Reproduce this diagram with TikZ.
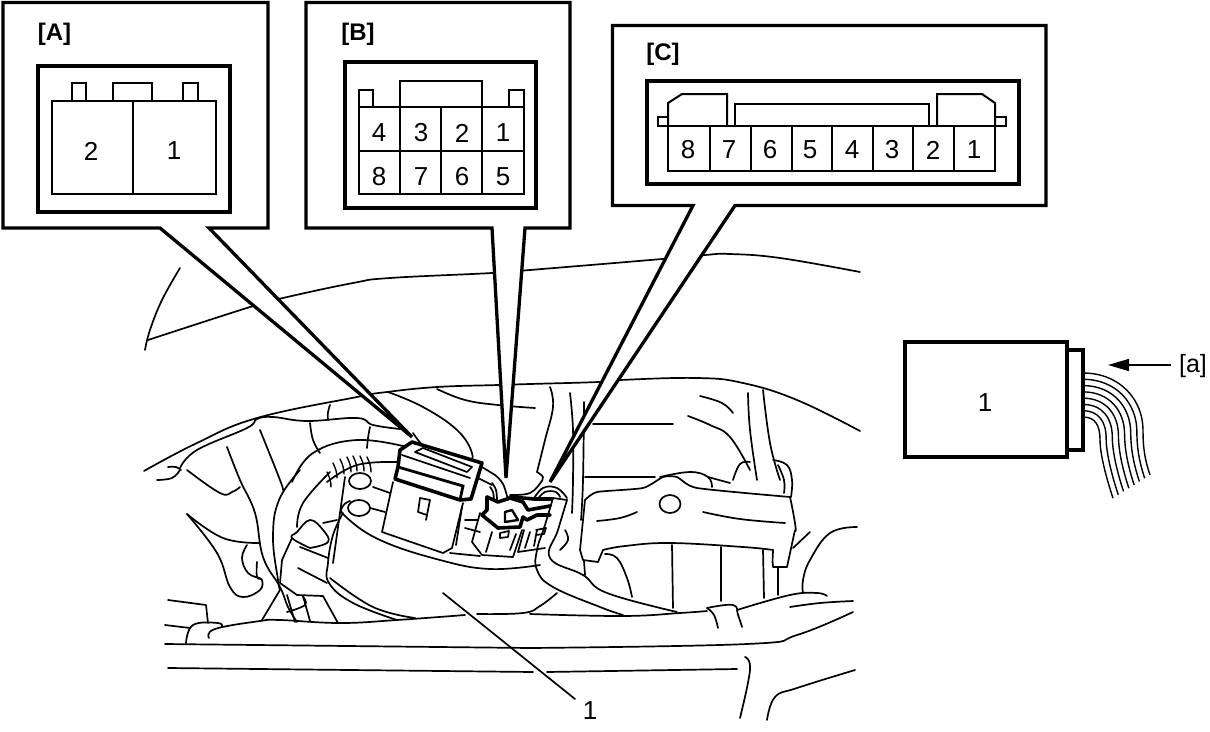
\documentclass[tikz,border=0pt]{standalone}
\usepackage{fontspec}
\setmainfont{Liberation Sans}
\usetikzlibrary{arrows.meta}
\tikzset{
  ln/.style={line width=1.7pt,line cap=round,line join=round},
  thin part/.style={line width=2pt,line join=miter},
  panel/.style={line width=3.3pt,draw=black,fill=white,line join=miter},
  frame/.style={line width=4.2pt,line join=miter},
  heavy/.style={line width=3.6pt,line join=round,line cap=round},
  num/.style={font=\fontsize{26}{26}\selectfont,inner sep=0pt,text=black},
  tag/.style={font=\bfseries\fontsize{24}{24}\selectfont,inner sep=0pt,text=black},
  plain tag/.style={font=\fontsize{25}{25}\selectfont,inner sep=0pt,text=black},
}
\newcommand{\cv}[1]{\draw[ln] plot[smooth,tension=0.7] coordinates {#1};}
\begin{document}
\begin{tikzpicture}[x=1pt,y=-1pt]
\useasboundingbox[fill=white] (0,0) rectangle (1210,731);
% --- scene: body lines
\cv{(180,268)(162,300)(150,330)(145,350)}
\cv{(148,340)(250,307)(283,298)(353,283)(390,278)(492,273)(530,270)(662,259)(705,255)(730,254)(780,258)(860,272)}
\cv{(144,471)(197,443)(257,418)(357,397)(387,392)(437,387)(498,385)(530,384)(598,382)(620,380)(697,378)(743,383)(797,400)(860,431)}
\cv{(437,389)(465,400)(498,405)(535,408)}
% hand
\cv{(180,468)(197,450)(247,428)(257,419)(273,417)(307,421)(357,418)(373,425)(400,429)}
\cv{(157,480)(172,478)(180,470)}
\cv{(168,467)(176,467)(181,470)}
\cv{(187,470)(220,493)(232,492)(240,487)}
\cv{(388,392)(423,407)(457,430)(472,453)(467,462)(447,463)(427,450)(413,433)}
\cv{(227,447)(240,480)(255,513)(263,557)(280,587)(288,607)(297,622)}
\cv{(260,430)(280,480)(283,490)}
\cv{(310,423)(313,440)(320,453)}
\cv{(330,405)(328,412)(328,420)}
\cv{(370,427)(368,438)(367,448)}
\cv{(292,482)(313,453)(357,440)(407,447)}
\cv{(327,482)(357,465)(397,462)}
\foreach \a/\b in {327/345,333/336,340/332,347/330,353/329,360/329,367/330}{
  \draw[ln,line width=1.4pt] (\a,\b+127) .. controls (\a+3,\b+133) and (\a+4,\b+137) .. (\a+4,\b+142);}
% lower left
\cv{(300,470)(279,500)(273,537)(278,580)(280,590)}
\draw[ln] (280,590) -- (262,620);
\cv{(187,514)(223,538)(260,543)}
\cv{(187,514)(217,553)(230,587)(243,597)(260,590)(262,580)(257,577)(257,562)}
\cv{(247,545)(242,558)(248,573)(260,578)}
% front frame
\draw[ln] (165,644) -- (530,648);
\draw[ln] (168,668) -- (533,672);
\draw[ln] (165,625) -- (190,628);
\draw[ln] (168,600) -- (206,605) -- (208,623);
\cv{(186,643)(193,625)(218,623)(222,627)}
\cv{(209,638)(215,629)(260,621)(280,620)(340,623)(397,620)(465,615)}
\cv{(477,614)(523,613)(540,606)(557,593)}
% pump
\cv{(297,527)(303,503)(330,472)}
\cv{(323,523)(337,520)}
\draw[ln] (360,481) ellipse[x radius=11,y radius=8];
\draw[ln] (359,508) ellipse[x radius=11,y radius=8];
\draw[ln] (345,477) -- (333,563);
\cv{(350,501)(343,506)(345,516)(380,540)(440,560)(490,569)(540,565)}
\cv{(343,513)(333,535)(328,563)(329,583)(353,603)(397,620)}
\cv{(330,578)(373,607)(415,618)}
\draw[ln] (373,487) -- (390,493);
\draw[ln] (370,508) -- (385,512);
\cv{(310,548)(328,542)(323,530)(310,520)(297,532)(292,538)(310,548)}
\draw[ln] (292,538) -- (282,560) -- (280,583) -- (297,595) -- (323,596) -- (338,623);
\draw[ln] (303,596) -- (310,621);
\draw[ln] (287,595) -- (295,622);
\cv{(303,597)(305,605)(287,612)}
\draw[ln] (300,547) -- (328,558);
\draw[ln] (298,568) -- (327,583);
% connector A
\draw[ln] (393,482) -- (382,532) -- (443,553) -- (452,548) -- (463,503);
\draw[ln] (456,545) -- (462,507);
\draw[ln] (420,498) -- (418,512) -- (427,515) -- (430,500) -- cycle;
\draw[ln] (427,515) -- (426,520);
\draw[heavy,fill=white] (400,450) -- (412,442) -- (482,463) -- (471,499) -- (460,500) -- (395,479) -- (398,467) -- cycle;
\draw[ln] (402,455) -- (470,478);
\draw[line width=2.8pt] (398,467) -- (463,486) -- (460,500);
\draw[ln] (415,452) -- (423,448) -- (472,467) -- (467,472) -- cycle;
\draw[ln] (482,467) -- (495,475);
\draw[ln] (478,478) -- (492,485);
\draw[ln] (465,520) -- (478,520);
\draw[ln] (465,528) -- (480,532);
\draw[ln] (450,553) -- (480,556);
% connector B
\cv{(495,475)(503,484)(508,500)}
\cv{(492,483)(496,490)(497,500)}
\cv{(490,487)(493,492)(494,500)}
\draw[heavy] (487,497) -- (487,510) -- (482,515) -- (498,528) -- (520,527) -- (523,517) -- (527,520) -- (537,515) -- (550,515);
\draw[heavy] (487,497) -- (498,502) -- (510,498) -- (523,502) -- (528,510) -- (550,506);
\draw[ln] (480,513) -- (472,542) -- (482,555) -- (513,557) -- (522,530);
\draw[ln] (492,532) -- (486,552);
\draw[ln] (516,534) -- (510,550);
\draw[ln] (500,533) -- (509,531) -- (508,537) -- (500,538) -- cycle;
\draw[line width=2.4pt,line join=round] (505,512) -- (505,522) -- (518,520) -- (512,510) -- cycle;
% connector C
\draw[heavy] (510,497) -- (535,499) -- (552,499);
\cv{(533,500)(543,488)(557,488)(567,498)}
\cv{(537,500)(545,492)(556,492)(560,497)}
\draw[ln] (524,530) -- (518,552) -- (545,548);
\draw[ln] (530,532) -- (525,548);
\draw[ln] (537,530) -- (534,546);
\draw[ln] (536,530) -- (546,528) -- (544,534) -- (536,535);
\cv{(510,495)(530,493)(541,482)}
% right part: hose
\cv{(553,498)(545,525)(537,550)(537,570)(553,587)(600,607)(623,615)}
\cv{(567,500)(558,530)(550,558)(583,575)(607,593)(677,612)}
\draw[ln] (553,498) -- (567,500);
\cv{(565,530)(568,540)(560,550)}
\cv{(530,614)(623,616)(680,613)(707,611)}
% uprights
\cv{(550,387)(553,407)(545,440)(537,472)}
\cv{(537,472)(543,477)(541,482)}
\cv{(570,393)(573,430)(573,480)(572,513)}
\cv{(584,402)(583,480)(581,520)}
\draw[ln] (593,424) -- (673,424);
\draw[ln] (585,477) -- (655,477);
\cv{(700,396)(722,403)(733,413)}
\cv{(688,416)(710,425)(730,437)(750,470)}
\cv{(748,393)(750,430)(757,480)}
\cv{(763,390)(770,443)(780,480)}
\cv{(733,480)(740,464)(750,462)}
\cv{(773,460)(787,465)(792,480)(791,497)}
\cv{(778,465)(784,480)(784,493)}
\cv{(660,477)(690,472)(708,477)(712,487)}
\cv{(708,477)(730,483)}
% bracket
\draw[ln,fill=white] plot[smooth,tension=0.35] coordinates {(585,500)(597,492)(643,488)(663,477)(677,477)(697,488)(790,497)};
\draw[ln] (790,497) .. controls (795,520) and (797,535) .. (795,530) -- (787,567) -- (773,567) .. controls (772,560) and (773,555) .. (773,550);
\cv{(773,550)(743,547)(670,543)(625,546)(603,550)}
\draw[ln] (603,550) -- (598,562) -- (583,560) -- (580,550) -- (585,500);
\draw[ln] (670,504) ellipse[x radius=10.5,y radius=9];
\cv{(597,521)(620,518)(637,512)}
\cv{(703,512)(740,519)(785,523)}
\draw[ln] (672,545) -- (673,608);
\draw[ln] (721,547) -- (721,601);
\draw[ln] (763,550) -- (764,598);
\draw[ln] (778,567) -- (778,595);
\draw[ln] (584,561) -- (585,575);
\cv{(605,554)(617,558)(627,578)(632,597)}
% clamp and frame right
\cv{(707,608)(733,605)(738,615)(742,627)}
\cv{(707,608)(714,615)(718,628)}
\cv{(737,610)(790,595)(817,593)(827,596)}
\cv{(790,607)(820,603)(853,601)}
\cv{(530,648)(747,644)(797,635)(853,612)}
\draw[ln] (547,672) -- (737,669);
\cv{(745,657)(750,670)(740,718)}
\cv{(855,670)(797,688)(775,697)(767,720)}
\cv{(857,527)(830,533)(810,560)(803,580)(803,593)}
\draw[ln] (810,532) -- (793,548);
% leader
\coordinate (leadstart) at (443,593);
\coordinate (leadend) at (575,699);
\draw[ln] (leadstart) -- (leadend);
\node[num] (lab1) at (590,711) {1};
% --- callouts
\draw[panel] (3,2.5) -- (268,2.5) -- (268,228) -- (209,228) -- (412,437) -- (160,228) -- (3,228) -- cycle;
\draw[panel] (306,2.5) -- (570,2.5) -- (570,228) -- (525,228) -- (506,478) -- (492,228) -- (306,228) -- cycle;
\draw[panel] (612.5,25.5) -- (1046,25.5) -- (1046,205.5) -- (735,205.5) -- (550,482) -- (693,205.5) -- (612.5,205.5) -- cycle;
% panel A
\node[tag] (tagA) at (54.5,34) {[A]};
\draw[frame] (38,66) rectangle (230,212);
\draw[thin part] (52,101) rectangle (216,194);
\draw[thin part] (133,101) -- (133,194);
\draw[thin part] (72,101) |- (86,83) -- (86,101);
\draw[thin part] (113,101) |- (152,83) -- (152,101);
\draw[thin part] (183,101) |- (198,83) -- (198,101);
\node[num] (a2) at (91,151) {2};
\node[num] (a1) at (174,151) {1};
% panel B
\node[tag] (tagB) at (358,34) {[B]};
\draw[frame] (345,62) rectangle (536,208);
\draw[thin part] (359,107) rectangle (524,194);
\draw[thin part] (359,151) -- (524,151);
\foreach \x in {400,441,482}{\draw[thin part] (\x,107) -- (\x,194);}
\draw[thin part] (359,107) |- (373,90) -- (373,107);
\draw[thin part] (400,107) |- (482,81) -- (482,107);
\draw[thin part] (509,107) |- (524,90) -- (524,107);
\node[num] (b4) at (379,133) {4};
\node[num] (b3) at (421,133) {3};
\node[num] (b2) at (462,133) {2};
\node[num] (b1) at (503,133) {1};
\node[num] (b8) at (379,177) {8};
\node[num] (b7) at (421,177) {7};
\node[num] (b6) at (462,177) {6};
\node[num] (b5) at (503,177) {5};
% panel C
\node[tag] (tagC) at (663,54) {[C]};
\draw[frame] (647,81) rectangle (1019,184);
\draw[thin part] (668,126) rectangle (995,171);
\foreach \x in {709.5,750.5,791.5,831.5,872.5,913,954}{\draw[thin part] (\x,126) -- (\x,171);}
\draw[thin part] (668,126) -- (668,103) -- (682,94) -- (727,94) -- (727,126);
\draw[thin part] (735,126) |- (929,104) -- (929,126);
\draw[thin part] (937,126) |- (982,94) -- (995,103) -- (995,126);
\draw[thin part] (668,117) -- (658,117) -- (658,126) -- (668,126);
\draw[thin part] (995,117) -- (1006,117) -- (1006,126) -- (995,126);
\node[num] (c8) at (688,150) {8};
\node[num] (c7) at (729,150) {7};
\node[num] (c6) at (770,150) {6};
\node[num] (c5) at (810,150) {5};
\node[num] (c4) at (852,150) {4};
\node[num] (c3) at (892,150) {3};
\node[num] (c2) at (933,150) {2};
\node[num] (c1) at (974,150) {1};
% unit at right
\foreach \t in {0,...,7}{
  \pgfmathsetmacro{\ya}{373+6.29*\t}
  \pgfmathsetmacro{\xb}{1143-6.14*\t}
  \pgfmathsetmacro{\yb}{430+1.43*\t}
  \pgfmathsetmacro{\ca}{1120-3.57*\t}
  \pgfmathsetmacro{\cb}{\ya}
  \pgfmathsetmacro{\cc}{1143-6.14*\t}
  \pgfmathsetmacro{\cd}{400+3.57*\t}
  \pgfmathsetmacro{\xe}{1150-5.29*\t}
  \pgfmathsetmacro{\ye}{475+3.29*\t}
  \draw[line width=1.4pt] (1083,\ya) .. controls (\ca,\cb) and (\cc,\cd) .. (\xb,\yb)
     .. controls (\xb,\yb+15) and (\xe-6,\ye-18) .. (\xe,\ye);
}
\draw[line width=3.2pt,fill=white] (1067,350) rectangle (1083,450);
\draw[line width=3.4pt,fill=white] (905,342) rectangle (1067,457);
\node[num] (unit1) at (985,403) {1};
\node[plain tag] (taga) at (1193,366) {[a]};
\coordinate (arrowtip) at (1108,365);
\draw[line width=1.5pt,-{Stealth[length=21pt,width=12pt,inset=0pt]}] (taga.west) ++(-8,-1) -- (arrowtip);
\end{tikzpicture}
\end{document}
